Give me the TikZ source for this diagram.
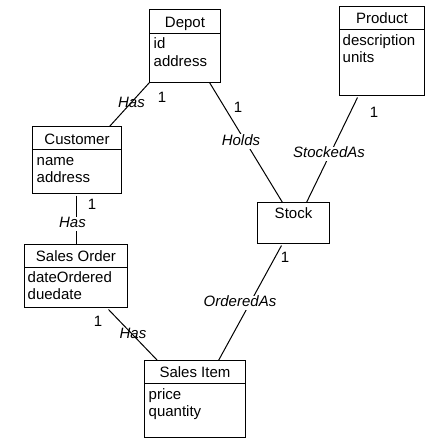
\documentclass[tikz,border=0pt]{standalone}
\usepackage{fontspec}
\setmainfont{Liberation Sans}
\begin{document}
\begin{tikzpicture}[x=1pt,y=-1pt,
  box/.style={draw,line width=1pt,rectangle,anchor=north west,inner sep=0pt,outer sep=0pt},
  hdr/.style={anchor=base,inner sep=0pt,font=\fontsize{15}{17}\selectfont},
  attr/.style={anchor=base west,inner sep=0pt,font=\fontsize{15}{17}\selectfont},
  conn/.style={line width=1pt},
  rel/.style={inner sep=0.5pt,text height=10.5pt,text depth=3pt,font=\fontsize{15}{17}\selectfont\itshape},
  gaprel/.style={rel,fill=white},
  mult/.style={inner sep=0pt,font=\fontsize{15}{17}\selectfont}]
\useasboundingbox[fill=white] (0,0) rectangle (444,447);

% boxes
\node[box,minimum width=71,minimum height=73] (depot) at (149.5,9.5) {};
\node[box,minimum width=85,minimum height=89] (product) at (339.5,6.5) {};
\node[box,minimum width=89,minimum height=67] (customer) at (32.5,126.5) {};
\node[box,minimum width=72,minimum height=41] (stock) at (257.5,202.5) {};
\node[box,minimum width=103,minimum height=63] (salesorder) at (24.5,244.5) {};
\node[box,minimum width=101,minimum height=77] (salesitem) at (144.5,360.5) {};

% dividers
\draw[line width=1pt] ([yshift=-24pt]depot.north west) -- ([yshift=-24pt]depot.north east);
\draw[line width=1pt] ([yshift=-23pt]product.north west) -- ([yshift=-23pt]product.north east);
\draw[line width=1pt] ([yshift=-23pt]customer.north west) -- ([yshift=-23pt]customer.north east);
\draw[line width=1pt] ([yshift=-23pt]salesorder.north west) -- ([yshift=-23pt]salesorder.north east);
\draw[line width=1pt] ([yshift=-23pt]salesitem.north west) -- ([yshift=-23pt]salesitem.north east);

% headers
\node[hdr] (depotT) at ([yshift=-18pt]depot.north) {Depot};
\node[hdr] (productT) at ([yshift=-17pt]product.north) {Product};
\node[hdr] (customerT) at ([yshift=-18pt]customer.north) {Customer};
\node[hdr] (stockT) at ([yshift=-16pt]stock.north) {Stock};
\node[hdr] (salesorderT) at ([yshift=-17pt]salesorder.north) {Sales Order};
\node[hdr] (salesitemT) at ([yshift=-17pt]salesitem.north) {Sales Item};

% attributes
\node[attr] (depotA1) at ([xshift=4pt,yshift=-39pt]depot.north west) {id};
\node[attr] (depotA2) at ([xshift=4pt,yshift=-57pt]depot.north west) {address};
\node[attr] (productA1) at ([xshift=3pt,yshift=-39pt]product.north west) {description};
\node[attr] (productA2) at ([xshift=3pt,yshift=-56pt]product.north west) {units};
\node[attr] (customerA1) at ([xshift=4pt,yshift=-39pt]customer.north west) {name};
\node[attr] (customerA2) at ([xshift=4pt,yshift=-56pt]customer.north west) {address};
\node[attr] (salesorderA1) at ([xshift=3pt,yshift=-38pt]salesorder.north west) {dateOrdered};
\node[attr] (salesorderA2) at ([xshift=3pt,yshift=-55pt]salesorder.north west) {duedate};
\node[attr] (salesitemA1) at ([xshift=4pt,yshift=-39pt]salesitem.north west) {price};
\node[attr] (salesitemA2) at ([xshift=4pt,yshift=-56pt]salesitem.north west) {quantity};

% connectors
\draw[conn] (depot.south west) -- ([xshift=77pt]customer.north west)
  node[rel,pos=0.5,xshift=2pt,yshift=1pt] (hasDC) {Has};
\draw[conn] ([xshift=60pt]depot.south west) -- ([xshift=25pt]stock.north west)
  node[gaprel,pos=0.5,xshift=-5pt,yshift=1pt] (holds) {Holds};
\draw[conn] ([xshift=18pt,yshift=-2pt]product.south west) -- ([xshift=49pt]stock.north west)
  node[gaprel,pos=0.5,xshift=-3pt,yshift=-4pt] (stockedas) {StockedAs};
\draw[conn] ([xshift=44pt,yshift=-2pt]customer.south west) -- ([xshift=52pt]salesorder.north west)
  node[gaprel,pos=0.5,xshift=-4pt,yshift=-4pt] (hasCS) {Has};
\draw[conn] ([xshift=24pt,yshift=-2pt]stock.south west) -- ([xshift=74pt]salesitem.north west)
  node[gaprel,pos=0.5,xshift=-10pt,yshift=0pt] (orderedas) {OrderedAs};
\draw[conn] ([xshift=84pt,yshift=-2pt]salesorder.south west) -- ([xshift=13pt]salesitem.north west)
  node[rel,pos=0.5,xshift=0pt,yshift=0pt] (hasSS) {Has};

% multiplicities
\node[mult] (m1) at (162,97) {1};
\node[mult] (m2) at (238,107) {1};
\node[mult] (m3) at (374,112) {1};
\node[mult] (m4) at (92,204) {1};
\node[mult] (m5) at (98,321) {1};
\node[mult] (m6) at (285,257) {1};
\end{tikzpicture}
\end{document}
